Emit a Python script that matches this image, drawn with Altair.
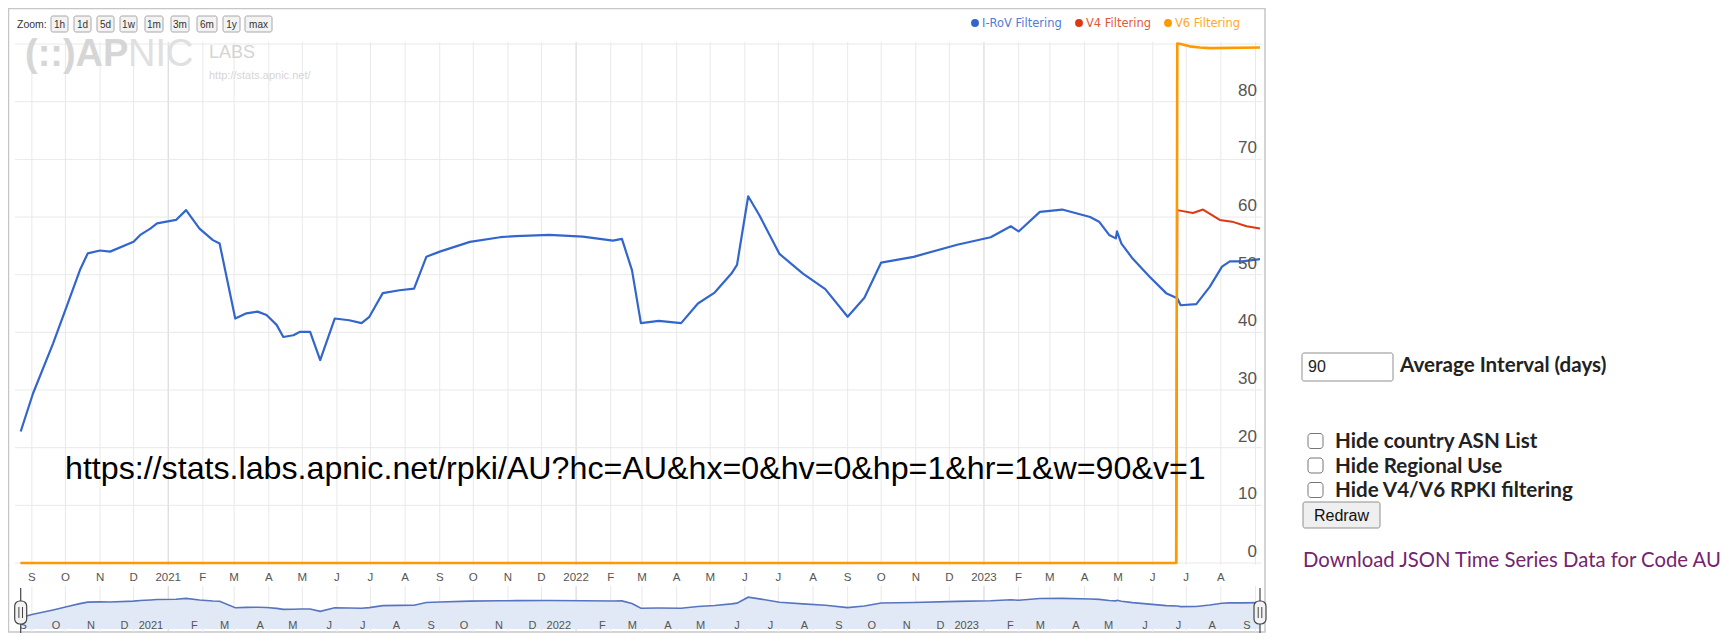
import altair as alt
import pandas as pd

# ---------------- data ----------------
rov_dates = [
    "2020-08-22", "2020-09-02", "2020-09-20", "2020-10-02", "2020-10-14", "2020-10-21",
    "2020-11-01", "2020-11-10", "2020-12-01", "2020-12-07", "2020-12-16", "2020-12-22",
    "2021-01-08", "2021-01-17", "2021-01-29", "2021-02-10", "2021-02-16", "2021-03-02",
    "2021-03-12", "2021-03-22", "2021-03-30", "2021-04-08", "2021-04-14", "2021-04-23",
    "2021-04-29", "2021-05-08", "2021-05-17", "2021-05-30", "2021-06-12", "2021-06-23",
    "2021-06-30", "2021-07-12", "2021-07-27", "2021-08-09", "2021-08-20", "2021-09-01",
    "2021-09-28", "2021-10-25", "2021-11-08", "2021-12-08", "2022-01-07", "2022-02-03",
    "2022-02-11", "2022-02-20", "2022-02-28", "2022-03-16", "2022-04-05", "2022-04-20",
    "2022-05-05", "2022-05-20", "2022-05-25", "2022-06-04", "2022-06-14", "2022-07-02",
    "2022-07-23", "2022-08-12", "2022-09-01", "2022-09-16", "2022-10-01", "2022-10-30",
    "2022-12-08", "2023-01-07", "2023-01-25", "2023-02-01", "2023-02-20", "2023-03-12",
    "2023-04-06", "2023-04-14", "2023-04-23", "2023-04-29", "2023-04-30", "2023-05-04",
    "2023-05-14", "2023-05-29", "2023-06-13", "2023-06-23", "2023-06-26", "2023-07-10",
    "2023-07-22", "2023-08-02", "2023-08-09", "2023-08-20", "2023-09-05",
]
rov_values = [
    22.8, 29.4, 38.1, 44.4, 50.8, 53.7,
    54.2, 54.0, 55.7, 56.9, 58.0, 58.9,
    59.5, 61.2, 58.0, 56.0, 55.4, 42.4,
    43.3, 43.6, 43.0, 41.3, 39.2, 39.5,
    40.1, 40.1, 35.2, 42.4, 42.1, 41.6,
    42.7, 46.8, 47.3, 47.6, 53.1, 54.0,
    55.7, 56.5, 56.7, 56.9, 56.6, 55.9,
    56.2, 50.8, 41.6, 42.0, 41.6, 45.0,
    46.9, 50.2, 51.7, 63.6, 60.3, 53.6,
    50.2, 47.5, 42.7, 46.0, 52.1, 53.1,
    55.2, 56.5, 58.4, 57.5, 60.9, 61.3,
    60.0, 59.2, 56.9, 56.3, 57.5, 55.4,
    52.8, 49.7, 46.8, 45.9, 44.7, 44.9,
    47.9, 51.4, 52.3, 52.3, 52.7,
]
v4_dates = ["2020-08-22", "2023-06-22", "2023-06-23", "2023-07-07", "2023-07-16",
            "2023-07-31", "2023-08-11", "2023-08-24", "2023-09-05"]
v4_values = [0, 0, 61.2, 60.7, 61.3, 59.5, 59.2, 58.4, 58.0]
v6_dates = ["2020-08-22", "2023-06-22", "2023-06-23", "2023-06-26", "2023-07-04",
            "2023-07-13", "2023-07-22", "2023-09-05"]
v6_values = [0, 0, 90.1, 90.0, 89.6, 89.4, 89.3, 89.4]

series_names = ["I-RoV Filtering", "V4 Filtering", "V6 Filtering"]
series_colors = ["#3366cc", "#dc3912", "#ff9900"]

y_tick_values = [0, 10, 20, 30, 40, 50, 60, 70, 80]
y_grid_values = [0, 10, 20, 30, 40, 50, 60, 70, 80, 90]
month_labels_main = ["S", "O", "N", "D", "2021", "F", "M", "A", "M", "J", "J", "A",
                     "S", "O", "N", "D", "2022", "F", "M", "A", "M", "J", "J", "A",
                     "S", "O", "N", "D", "2023", "F", "M", "A", "M", "J", "J", "A"]
month_labels_nav = month_labels_main + ["S"]
zoom_buttons = ["1h", "1d", "5d", "1w", "1m", "3m", "6m", "1y", "max"]
checkbox_labels = ["Hide country ASN List", "Hide Regional Use", "Hide V4/V6 RPKI filtering"]
interval_value = "90"
interval_label = "Average Interval (days)"
download_label = "Download JSON Time Series Data for Code AU"
url_text = "https://stats.labs.apnic.net/rpki/AU?hc=AU&hx=0&hv=0&hp=1&hr=1&w=90&v=1"

# ---------------- layout (page pixels -> view pixels) ----------------
W, H = 1713, 625
def px(x):
    return x - 8
def py(y):
    return y - 8

X_SCALE = alt.Scale(domain=[alt.DateTime(year=2020, month=8, date=22),
                            alt.DateTime(year=2023, month=9, date=5)],
                    range=[px(20.7), px(1260)])
Y_SCALE = alt.Scale(domain=[0, 90], range=[py(563), py(563 - 90 * 5.766)])
NAV_Y = alt.Scale(domain=[0, 90], range=[py(629), py(584)])

LAB_FONT = "Liberation Sans"
UI_FONT = "Lato"
UI_SIZE = 20.6

one = alt.Data(values=[{}])
layers = []

# frame
layers.append(alt.Chart(one).mark_rect(fillOpacity=0, stroke="#c6c6c6", strokeWidth=1.5).encode(
    x=alt.value(px(8.5)), x2=alt.value(px(1265)), y=alt.value(py(8.5)), y2=alt.value(py(632))))

# month grid lines
months = pd.date_range("2020-09-01", periods=37, freq="MS")
grid_df = pd.DataFrame({"date": months})
grid_norm = grid_df[months.month != 1]
grid_year = grid_df[months.month == 1]
for gdf, col in [(grid_norm, "#e9e9e9"), (grid_year, "#d2d2d2")]:
    for (y0, y1) in [(42, 565), (586, 632)]:
        layers.append(alt.Chart(gdf).mark_rule(color=col, strokeWidth=1).encode(
            x=alt.X("date:T", scale=X_SCALE, axis=None),
            y=alt.value(py(y0)), y2=alt.value(py(y1))))

# horizontal grid lines
ygrid_df = pd.DataFrame({"v": y_grid_values})
layers.append(alt.Chart(ygrid_df).mark_rule(color="#e9e9e9", strokeWidth=1).encode(
    y=alt.Y("v:Q", scale=Y_SCALE, axis=None),
    x=alt.value(px(15)), x2=alt.value(px(1262))))

# navigator
nav_df = pd.DataFrame({"date": pd.to_datetime(rov_dates), "value": rov_values})
layers.append(alt.Chart(nav_df).mark_area(color="#e2e9f6", opacity=1).encode(
    x=alt.X("date:T", scale=X_SCALE, axis=None),
    y=alt.Y("value:Q", scale=NAV_Y, axis=None),
    y2=alt.value(py(632))))
layers.append(alt.Chart(nav_df).mark_line(color="#5774c0", strokeWidth=1.6).encode(
    x=alt.X("date:T", scale=X_SCALE, axis=None),
    y=alt.Y("value:Q", scale=NAV_Y, axis=None)))

# main lines
def line_layer(dates, values, color, width):
    df = pd.DataFrame({"date": pd.to_datetime(dates), "value": values})
    return alt.Chart(df).mark_line(color=color, strokeWidth=width, strokeJoin="round").encode(
        x=alt.X("date:T", scale=X_SCALE, axis=None),
        y=alt.Y("value:Q", scale=Y_SCALE, axis=None))

layers.append(line_layer(rov_dates, rov_values, series_colors[0], 2.2))
layers.append(line_layer(v4_dates, v4_values, series_colors[1], 2.0))
layers.append(line_layer(v6_dates, v6_values, series_colors[2], 2.6))

# y labels
ytick_df = pd.DataFrame({"v": y_tick_values, "t": [str(v) for v in y_tick_values]})
layers.append(alt.Chart(ytick_df).mark_text(align="right", baseline="alphabetic", dy=-6,
                                            font=LAB_FONT, fontSize=17, color="#555555").encode(
    y=alt.Y("v:Q", scale=Y_SCALE, axis=None), x=alt.value(px(1257)), text="t:N"))

# x labels (main and navigator)
main_lab_df = pd.DataFrame({"date": months[:36], "t": month_labels_main})
layers.append(alt.Chart(main_lab_df).mark_text(align="center", baseline="middle",
                                               font=LAB_FONT, fontSize=11.5, color="#555555").encode(
    x=alt.X("date:T", scale=X_SCALE, axis=None), y=alt.value(py(578)), text="t:N"))
nav_lab_df = pd.DataFrame({"date": months, "t": month_labels_nav})
layers.append(alt.Chart(nav_lab_df).mark_text(align="right", baseline="middle", dx=-5,
                                              font=LAB_FONT, fontSize=11, color="#555555").encode(
    x=alt.X("date:T", scale=X_SCALE, axis=None), y=alt.value(py(626)), text="t:N"))

# navigator handles
for hx in [20.7, 1260]:
    layers.append(alt.Chart(one).mark_rule(color="#444444", strokeWidth=1.2).encode(
        x=alt.value(px(hx)), y=alt.value(py(588)), y2=alt.value(py(633))))
    layers.append(alt.Chart(one).mark_rect(fill="#f3f3f3", stroke="#444444", strokeWidth=1.2,
                                           cornerRadius=5).encode(
        x=alt.value(px(hx - 6)), x2=alt.value(px(hx + 6)), y=alt.value(py(601)), y2=alt.value(py(624))))
    for dx in (-1.8, 1.8):
        layers.append(alt.Chart(one).mark_rule(color="#444444", strokeWidth=1).encode(
            x=alt.value(px(hx + dx)), y=alt.value(py(607)), y2=alt.value(py(618))))

# watermark
wm = [
    ("(::)AP", 25, 55, 38, "bold", "#d6d6d6", "left"),
    ("NIC", 128, 55, 38, "normal", "#e0e0e0", "left"),
    ("LABS", 209, 53, 18, "normal", "#d4d4d4", "left"),
    ("http://stats.apnic.net/", 209, 76, 11, "normal", "#d6d6d6", "left"),
]
for t, x, y, fs, fw, col, al in wm:
    layers.append(alt.Chart(pd.DataFrame({"t": [t]})).mark_text(
        align=al, baseline="middle", font=LAB_FONT, fontSize=fs, fontWeight=fw, color=col).encode(
        x=alt.value(px(x)), y=alt.value(py(y)), text="t:N"))

# zoom buttons
btn_x0 = [51, 74, 97, 120, 145, 171, 197, 223, 245]
btn_x1 = [68, 91, 114, 137, 163, 189, 217, 240, 272]
btn_df = pd.DataFrame({"x0": [px(v) for v in btn_x0], "x1": [px(v) for v in btn_x1],
                       "xc": [px((a + b) / 2) for a, b in zip(btn_x0, btn_x1)],
                       "t": zoom_buttons})
layers.append(alt.Chart(btn_df).mark_rect(fill="#f3f3f3", stroke="#a8a8a8", strokeWidth=1,
                                          cornerRadius=2).encode(
    x=alt.X("x0:Q", scale=None, axis=None), x2="x1:Q",
    y=alt.value(py(16)), y2=alt.value(py(32))))
layers.append(alt.Chart(btn_df).mark_text(align="center", baseline="middle", font=LAB_FONT,
                                          fontSize=10, color="#333333").encode(
    x=alt.X("xc:Q", scale=None, axis=None), y=alt.value(py(24.5)), text="t:N"))
layers.append(alt.Chart(pd.DataFrame({"t": ["Zoom:"]})).mark_text(
    align="left", baseline="middle", font=LAB_FONT, fontSize=10.5, color="#333333").encode(
    x=alt.value(px(17)), y=alt.value(py(24.5)), text="t:N"))

# legend
leg_dot_x = [975, 1079, 1168]
leg_df = pd.DataFrame({"xd": [px(v) for v in leg_dot_x], "xt": [px(v + 7) for v in leg_dot_x],
                       "t": series_names, "c": series_colors})
layers.append(alt.Chart(leg_df).mark_circle(size=62, opacity=1).encode(
    x=alt.X("xd:Q", scale=None, axis=None), y=alt.value(py(23)),
    color=alt.Color("c:N", scale=None, legend=None)))
layers.append(alt.Chart(leg_df).mark_text(align="left", baseline="middle", font="DejaVu Sans",
                                          fontSize=11.5, opacity=0.85).encode(
    x=alt.X("xt:Q", scale=None, axis=None), y=alt.value(py(23.5)), text="t:N",
    color=alt.Color("c:N", scale=None, legend=None)))

# URL annotation
layers.append(alt.Chart(pd.DataFrame({"t": [url_text]})).mark_text(
    align="left", baseline="alphabetic", font=LAB_FONT, fontSize=32.2, color="#000000").encode(
    x=alt.value(px(65)), y=alt.value(py(479)), text="t:N"))

# right panel: input box, checkboxes, button, link
layers.append(alt.Chart(one).mark_rect(fill="#ffffff", stroke="#8f8f8f", strokeWidth=1,
                                       cornerRadius=2).encode(
    x=alt.value(px(1302)), x2=alt.value(px(1393)), y=alt.value(py(353)), y2=alt.value(py(381))))
layers.append(alt.Chart(pd.DataFrame({"t": [interval_value]})).mark_text(
    align="left", baseline="middle", font=LAB_FONT, fontSize=16, color="#222222").encode(
    x=alt.value(px(1308)), y=alt.value(py(367)), text="t:N"))
layers.append(alt.Chart(pd.DataFrame({"t": [interval_label]})).mark_text(
    align="left", baseline="middle", font=UI_FONT, fontSize=UI_SIZE, fontWeight="bold",
    color="#222222").encode(
    x=alt.value(px(1400)), y=alt.value(py(366)), text="t:N"))

cb_y = [441, 465.5, 490]
cb_df = pd.DataFrame({"y0": [py(v - 7.5) for v in cb_y], "y1": [py(v + 7.5) for v in cb_y],
                      "yc": [py(v + 1) for v in cb_y], "t": checkbox_labels})
layers.append(alt.Chart(cb_df).mark_rect(fill="#ffffff", stroke="#767676", strokeWidth=1,
                                         cornerRadius=3).encode(
    y=alt.Y("y0:Q", scale=None, axis=None), y2="y1:Q",
    x=alt.value(px(1308)), x2=alt.value(px(1323))))
layers.append(alt.Chart(cb_df).mark_text(align="left", baseline="middle", font=UI_FONT,
                                         fontSize=UI_SIZE, fontWeight="bold", color="#222222").encode(
    y=alt.Y("yc:Q", scale=None, axis=None), x=alt.value(px(1335)), text="t:N"))

layers.append(alt.Chart(one).mark_rect(fill="#efefef", stroke="#8f8f8f", strokeWidth=1,
                                       cornerRadius=2).encode(
    x=alt.value(px(1303)), x2=alt.value(px(1380)), y=alt.value(py(502)), y2=alt.value(py(528))))
layers.append(alt.Chart(pd.DataFrame({"t": ["Redraw"]})).mark_text(
    align="center", baseline="middle", font=LAB_FONT, fontSize=16, color="#111111").encode(
    x=alt.value(px(1341.5)), y=alt.value(py(515.5)), text="t:N"))
layers.append(alt.Chart(pd.DataFrame({"t": [download_label]})).mark_text(
    align="left", baseline="middle", font=UI_FONT, fontSize=20.3, color="#74246f").encode(
    x=alt.value(px(1303)), y=alt.value(py(561)), text="t:N"))

chart = alt.layer(*layers).resolve_scale(
    x="independent", y="independent", color="independent"
).properties(
    width=W, height=H, autosize=alt.AutoSizeParams(type="none"), padding=0
).configure_view(strokeWidth=0)

chart.save("out.html", embed_options={"renderer": "svg", "actions": False})
